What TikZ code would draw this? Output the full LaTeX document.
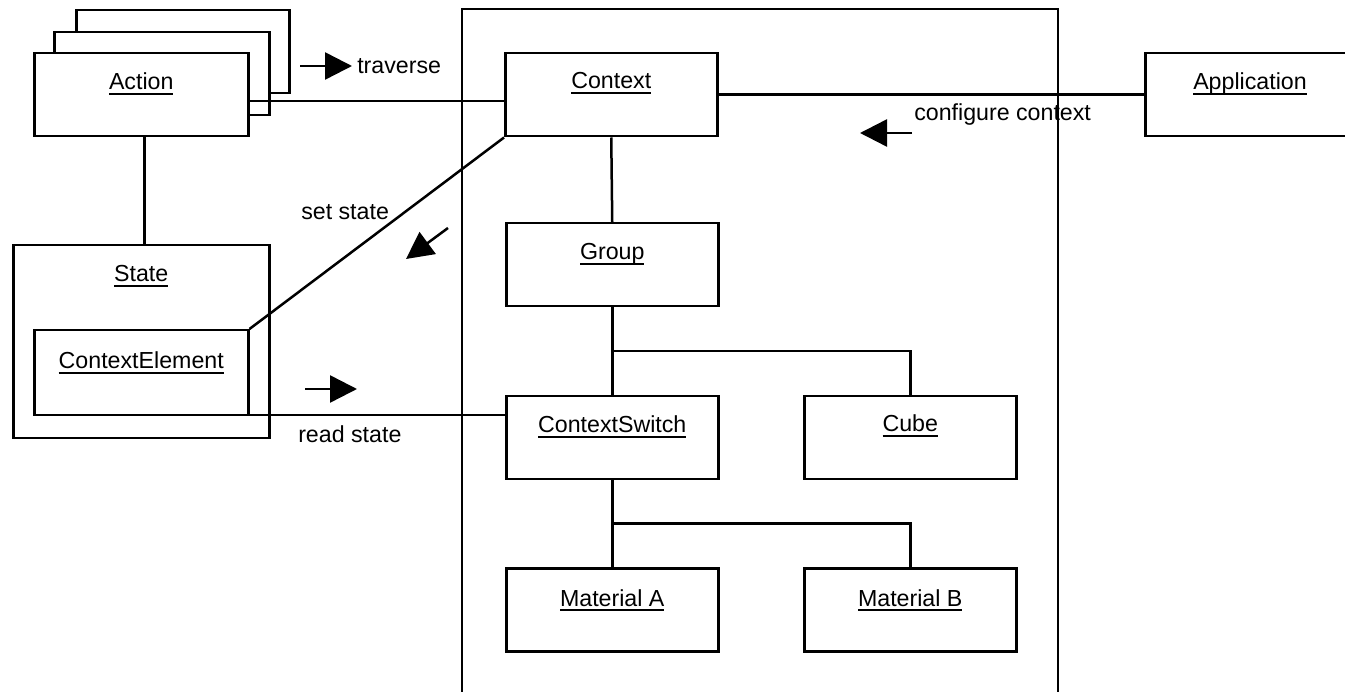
\documentclass[tikz,border=0pt]{standalone}
\usepackage{fontspec}
\setmainfont{Liberation Sans}
\usetikzlibrary{arrows.meta,calc}
% object names are underlined with a heavier rule than \underline gives
\newcommand\uname[1]{\setbox0\hbox{#1}\rlap{\rule[-4.8pt]{\wd0}{1.9pt}}\box0}

\begin{document}
\begin{tikzpicture}[x=1pt,y=-1pt,
  line width=2.5pt, line join=miter,
  every node/.style={font=\fontsize{23.2}{28}\selectfont},
  umlbox/.style={draw, fill=white, rectangle, inner sep=0pt, anchor=north west},
  obj/.style={umlbox, minimum width=212pt, minimum height=83pt},
  cls/.style={anchor=base, inner sep=0pt},
  txt/.style={anchor=base west, inner sep=0pt},
  flow/.style={-{Triangle[length=27pt,width=27pt]}},
]
\clip (0,0) rectangle (1345,692);

% scene graph frame (open at the bottom)
\draw (462,700) -- (462,9) -- (1058,9) -- (1058,700);

% stacked action objects
\node[umlbox, minimum width=213pt, minimum height=83pt] (act3) at (75,9) {};
\node[umlbox, minimum width=215pt, minimum height=83pt] (act2) at (53,31) {};
\node[umlbox, minimum width=214pt, minimum height=83pt] (act) at (33,52) {};
\node[cls] (actl) at ([yshift=-38pt]act.north) {\uname{Action}};

% state with its element
\node[umlbox, minimum width=256pt, minimum height=193pt] (state) at (12,244) {};
\node[cls] (statel) at ([yshift=-38pt]state.north) {\uname{State}};
\node[umlbox, minimum width=214pt, minimum height=85pt] (ce) at (33,329) {};
\node[cls] (cel) at ([yshift=-40pt]ce.north) {\uname{ContextElement}};

% scene graph nodes
\node[obj] (ctx) at (504,52) {};
\node[cls] (ctxl) at ([yshift=-37pt]ctx.north) {\uname{Context}};
\node[obj] (grp) at (505,222) {};
\node[cls] (grpl) at ([yshift=-38pt]grp.north) {\uname{Group}};
\node[obj] (cs) at (505,395) {};
\node[cls] (csl) at ([yshift=-38pt]cs.north) {\uname{ContextSwitch}};
\node[obj] (cube) at (803,395) {};
\node[cls] (cubel) at ([yshift=-37pt]cube.north) {\uname{Cube}};
\node[obj] (mata) at (505,567) {};
\node[cls] (matal) at ([yshift=-39pt]mata.north) {\uname{Material A}};
\node[obj] (matb) at (803,567) {};
\node[cls] (matbl) at ([yshift=-39pt]matb.north) {\uname{Material B}};

% application
\node[umlbox, minimum width=240pt, minimum height=83pt] (app) at (1144,52) {};
\node[cls] (appl) at ([yshift=-38pt]app.north -| 1250,0) {\uname{Application}};

% connectors
\draw ([yshift=-6.5pt]act.east) -- ([yshift=-6.5pt]act.east -| ctx.west);
\draw (ctx.east) -- (app.west);
\draw ([xshift=3pt]act.south) -- ([xshift=3pt]act.south |- state.north);
\draw (ce.north east) -- (ctx.south west);
\draw ([yshift=1.5pt]ce.south east) -- ([yshift=1.5pt]ce.south east -| cs.west);
\draw (ctx.south) -- (grp.north);
\draw (grp.south) -- (cs.north);
\draw ($(grp.south)!0.5!(cs.north)$) -| (cube.north);
\draw (cs.south) -- (mata.north);
\draw ($(cs.south)!0.5!(mata.north)$) -| (matb.north);

% message labels and direction arrows
\node[txt] (lt) at (356,74) {traverse};
\node[txt] (ls) at (300,220) {set state};
\node[txt] (lr) at (297,443) {read state};
\node[txt] (lc) at (913,121) {configure context};

\coordinate (ta) at (300,66);  \coordinate (tb) at (352,66);
\coordinate (sa) at (448,228); \coordinate (sb) at (406,259);
\coordinate (ra) at (305,389); \coordinate (rb) at (357,389);
\coordinate (ca) at (912,133); \coordinate (cb) at (860,133);
\draw[flow] (ta) -- (tb);
\draw[flow] (sa) -- (sb);
\draw[flow] (ra) -- (rb);
\draw[flow] (ca) -- (cb);
\end{tikzpicture}
\end{document}
